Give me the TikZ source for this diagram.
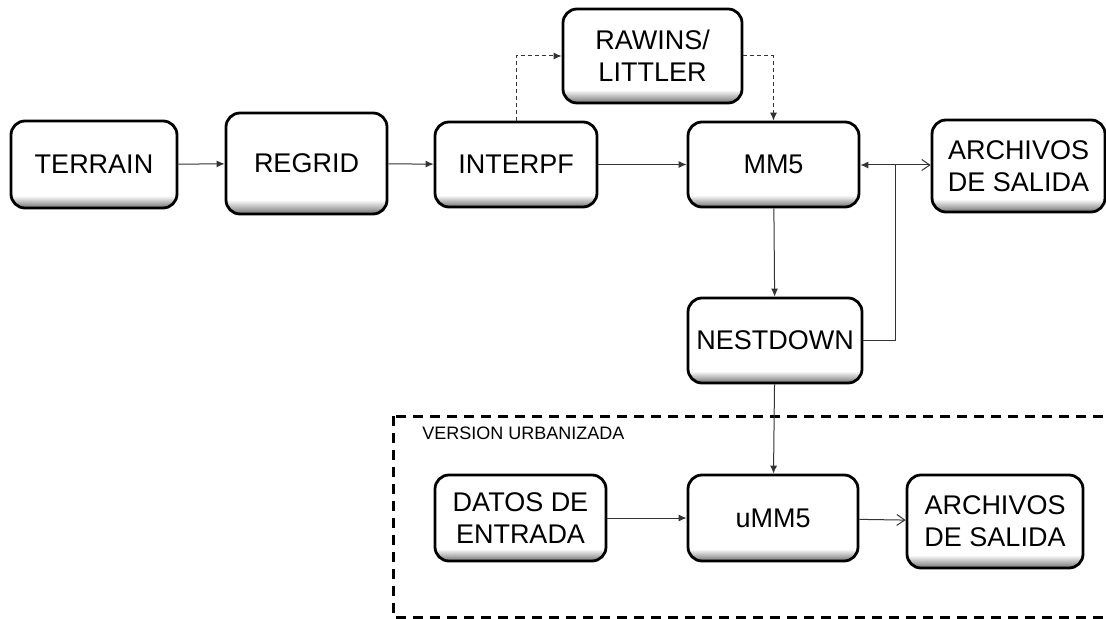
\documentclass[tikz,border=0pt]{standalone}
\usepackage{fontspec}
\setmainfont{Liberation Sans}
\usetikzlibrary{arrows.meta}
\pgfdeclareverticalshading{boxshade}{100bp}{color(0bp)=(black!55); color(25bp)=(black!55); color(32bp)=(white); color(100bp)=(white)}

\begin{document}
\begin{tikzpicture}[x=0.5pt, y=-0.5pt,
    caja/.style={draw, line width=1.4pt, rounded corners=7pt, shade, shading=boxshade, align=center, inner sep=0pt, font=\fontsize{13.5pt}{16pt}\selectfont},
    flecha/.style={draw=black!80, line width=0.5pt, -{Latex[length=4pt,width=3.5pt]}},
    salida/.style={draw=black!80, line width=0.5pt, -{Straight Barb[length=4pt,width=5.5pt]}},
    punteada/.style={flecha, dash pattern=on 2pt off 1.5pt}]
  %esquema MM5 / uMM5
    \useasboundingbox (0,0) rectangle (1106,619);
    \coordinate(nudo) at (895,165);

    \node[caja, minimum width=83pt, minimum height=43.5pt] (terrain) at (94,164.5) {TERRAIN};
    \node[caja, minimum width=80.5pt, minimum height=50.5pt] (regrid) at (306.5,163.5) {REGRID};
    \node[caja, minimum width=81pt, minimum height=42.5pt] (interpf) at (516,164.5) {INTERPF};
    \node[caja, minimum width=89.5pt, minimum height=47pt] (rawins) at (652.5,56) {RAWINS/\\LITTLER};
    \node[caja, minimum width=85.5pt, minimum height=42.5pt] (mm5) at (773.5,164.5) {MM5};
    \node[caja, minimum width=86.5pt, minimum height=46pt] (archivos) at (1018.5,166) {ARCHIVOS\\DE SALIDA};
    \node[caja, minimum width=87pt, minimum height=42.5pt] (nestdown) at (775,340.5) {NESTDOWN};

    \draw[line width=1.5pt, dash pattern=on 5pt off 3.5pt] (393,416) rectangle (1125,617);
    \node[anchor=west, inner sep=0pt, font=\fontsize{9pt}{10pt}\selectfont] (version) at (422,433) {VERSION URBANIZADA};

    \node[caja, minimum width=85.5pt, minimum height=43pt] (datos) at (520.5,518) {DATOS DE\\ENTRADA};
    \node[caja, minimum width=85pt, minimum height=43pt] (umm5) at (773,518) {uMM5};
    \node[caja, minimum width=88pt, minimum height=46.5pt] (archivosu) at (995,521.5) {ARCHIVOS\\DE SALIDA};

    \draw[flecha] (terrain) -- (regrid);
    \draw[flecha] (regrid) -- (interpf);
    \draw[flecha] (interpf) -- (mm5);
    \draw[punteada] (interpf.north) |- (rawins.west);
    \draw[punteada] (rawins.east) -| (mm5.north);
    \draw[flecha] (mm5) -- (nestdown);
    \draw[draw=black!80, line width=0.5pt] (nestdown.east) -| (nudo);
    \draw[flecha] (nudo) -- (nudo -| mm5.east);
    \draw[salida] (nudo) -- (nudo -| archivos.west);
    \draw[flecha] (nestdown) -- (umm5);
    \draw[flecha] (datos) -- (umm5);
    \draw[salida] (umm5) -- (archivosu);

  \end{tikzpicture}
\end{document}
